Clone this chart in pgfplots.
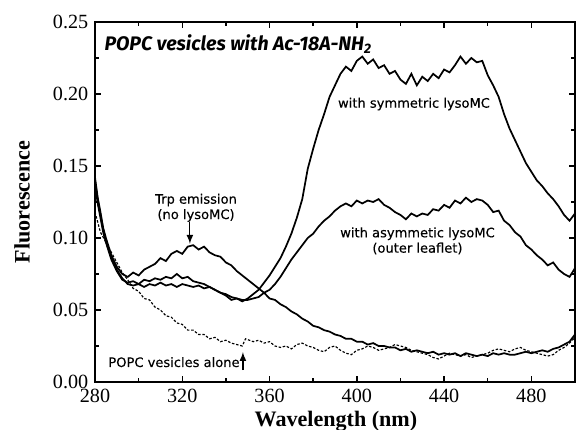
\documentclass[border=0pt]{standalone}
\usepackage{pgfplots}
\pgfplotsset{compat=1.18}
\usepackage{fontspec}
\setmainfont{Liberation Serif}
\setsansfont{Fira Sans}
\newfontfamily\annfont[FakeBold=0.3]{DejaVu Sans}
\begin{document}
\begin{tikzpicture}
\begin{axis}[
  at={(0,0)}, anchor=south west,
  scale only axis, width=250pt, height=187.5pt,
  xmin=280, xmax=500, ymin=0, ymax=0.25,
  xtick={280,320,...,480}, minor xtick={300,340,...,500},
  ytick={0,0.05,...,0.25}, minor ytick={0.025,0.075,...,0.225},
  major tick length=3.2pt, minor tick length=2pt,
  every tick/.style={line width=0.8pt, black},
  axis line style={line width=0.9pt},
  tick label style={font=\fontsize{10.5}{12}\selectfont},
  /pgf/number format/assume math mode=true,
  yticklabel style={/pgf/number format/fixed, /pgf/number format/fixed zerofill, /pgf/number format/precision=2},
  xticklabel style={/pgf/number format/1000 sep={}},
  xlabel={Wavelength (nm)}, ylabel={Fluorescence},
  label style={font=\fontsize{11.5}{13}\selectfont\bfseries},
  xlabel style={at={(axis description cs:0.502,-0.108)}, anchor=center},
  ylabel style={at={(axis description cs:-0.152,0.5)}, anchor=center},
  clip=true,
]
% no lysoMC (Trp emission)
\addplot[black, line width=0.9pt] coordinates {
(280,0.142)(281.25,0.128)(282.5,0.118)(283.75,0.107)(285,0.100)(287.5,0.088)(290,0.080)(292.5,0.075)(295,0.073)(297.5,0.076)(300,0.074)(302.5,0.078)(305,0.080)(307.5,0.082)(310,0.086)(312.5,0.084)(315,0.089)(317.5,0.091)(320,0.089)(322.5,0.094)(325,0.095)(327.5,0.092)(330,0.094)(332.5,0.090)(335,0.088)(337.5,0.087)(340,0.083)(342.5,0.081)(345,0.077)(347.5,0.074)(350,0.071)(352.5,0.068)(355,0.065)(357.5,0.062)(360,0.058)(362.5,0.057)(365,0.054)(367.5,0.052)(370,0.049)(372.5,0.047)(375,0.044)(377.5,0.042)(380,0.039)(382.5,0.038)(385,0.036)(387.5,0.035)(390,0.033)(392.5,0.032)(395,0.030)(397.5,0.030)(400,0.028)(402.5,0.028)(405,0.026)(407.5,0.027)(410,0.025)(412.5,0.025)(415,0.024)(417.5,0.024)(420,0.022)(422.5,0.023)(425,0.021)(427.5,0.022)(430,0.021)(432.5,0.020)(435,0.021)(437.5,0.019)(440,0.020)(442.5,0.019)(445,0.020)(447.5,0.018)(450,0.020)(452.5,0.019)(455,0.018)(457.5,0.019)(460,0.018)(462.5,0.020)(465,0.019)(467.5,0.020)(470,0.019)(472.5,0.019)(475,0.020)(477.5,0.021)(480,0.020)(482.5,0.021)(485,0.022)(487.5,0.021)(490,0.023)(492.5,0.024)(495,0.026)(497.5,0.028)(500,0.033)
};
% symmetric lysoMC
\addplot[black, line width=0.9pt] coordinates {
(280,0.140)(281.25,0.126)(282.5,0.116)(283.75,0.106)(285,0.098)(287.5,0.086)(290,0.078)(292.5,0.072)(295,0.068)(297.5,0.067)(300,0.068)(302.5,0.066)(305,0.068)(307.5,0.067)(310,0.069)(312.5,0.067)(315,0.068)(317.5,0.066)(320,0.068)(322.5,0.067)(325,0.066)(327.5,0.067)(330,0.065)(332.5,0.066)(335,0.064)(337.5,0.062)(340,0.061)(342.5,0.059)(345,0.058)(347.5,0.056)(350,0.058)(352.5,0.061)(355,0.064)(357.5,0.069)(360,0.074)(362.5,0.080)(365,0.086)(367.5,0.094)(370,0.103)(372.5,0.114)(375,0.127)(377.5,0.148)(380,0.162)(382.5,0.175)(385,0.186)(387.5,0.198)(390,0.206)(392.5,0.214)(395,0.219)(397.5,0.216)(400,0.223)(402.5,0.226)(405,0.221)(407.5,0.224)(410,0.218)(412.5,0.220)(415,0.214)(417.5,0.216)(420,0.210)(422.5,0.207)(425,0.214)(427.5,0.206)(430,0.212)(432.5,0.209)(435,0.214)(437.5,0.211)(440,0.217)(442.5,0.215)(445,0.220)(447.5,0.226)(450,0.221)(452.5,0.225)(455,0.222)(457.5,0.223)(460,0.213)(462.5,0.206)(465,0.198)(467.5,0.186)(470,0.176)(472.5,0.168)(475,0.160)(477.5,0.152)(480,0.146)(482.5,0.140)(485,0.136)(487.5,0.131)(490,0.127)(492.5,0.122)(495,0.116)(497.5,0.112)(500,0.117)
};
% asymmetric lysoMC
\addplot[black, line width=0.9pt] coordinates {
(280,0.138)(281.25,0.124)(282.5,0.114)(283.75,0.104)(285,0.097)(287.5,0.085)(290,0.077)(292.5,0.071)(295,0.069)(297.5,0.070)(300,0.068)(302.5,0.071)(305,0.070)(307.5,0.072)(310,0.071)(312.5,0.073)(315,0.072)(317.5,0.075)(320,0.072)(322.5,0.073)(325,0.070)(327.5,0.069)(330,0.068)(332.5,0.066)(335,0.064)(337.5,0.062)(340,0.060)(342.5,0.057)(345,0.058)(347.5,0.057)(350,0.057)(352.5,0.058)(355,0.059)(357.5,0.062)(360,0.064)(362.5,0.068)(365,0.073)(367.5,0.079)(370,0.085)(372.5,0.090)(375,0.095)(377.5,0.100)(380,0.103)(382.5,0.108)(385,0.112)(387.5,0.115)(390,0.119)(392.5,0.122)(395,0.124)(397.5,0.122)(400,0.126)(402.5,0.124)(405,0.126)(407.5,0.125)(410,0.127)(412.5,0.123)(415,0.121)(417.5,0.118)(420,0.116)(422.5,0.113)(425,0.117)(427.5,0.115)(430,0.117)(432.5,0.116)(435,0.120)(437.5,0.119)(440,0.123)(442.5,0.121)(445,0.126)(447.5,0.124)(450,0.128)(452.5,0.125)(455,0.127)(457.5,0.126)(460,0.123)(462.5,0.118)(465,0.119)(467.5,0.112)(470,0.109)(472.5,0.104)(475,0.101)(477.5,0.095)(480,0.092)(482.5,0.088)(485,0.085)(487.5,0.081)(490,0.083)(492.5,0.078)(495,0.075)(497.5,0.073)(500,0.079)
};
% POPC vesicles alone
\addplot[black, line width=0.6pt, dash pattern=on 1.3pt off 0.9pt] coordinates {
(280,0.118)(282.5,0.104)(285,0.097)(287.5,0.090)(290,0.083)(292.5,0.076)(295,0.071)(297.5,0.065)(300,0.063)(302.5,0.058)(305,0.057)(307.5,0.052)(310,0.050)(312.5,0.046)(315,0.045)(317.5,0.041)(320,0.040)(322.5,0.036)(325,0.036)(327.5,0.033)(330,0.033)(332.5,0.030)(335,0.031)(337.5,0.028)(340,0.029)(342.5,0.027)(345,0.026)(347.5,0.025)(349,0.030)(352.5,0.028)(355,0.029)(357.5,0.027)(360,0.028)(362.5,0.025)(365,0.024)(367.5,0.025)(370,0.023)(372.5,0.026)(375,0.027)(377.5,0.025)(380,0.024)(382.5,0.022)(385,0.021)(387.5,0.024)(390,0.025)(392.5,0.022)(395,0.020)(397.5,0.019)(400,0.022)(402.5,0.023)(405,0.025)(407.5,0.024)(410,0.022)(412.5,0.023)(415,0.024)(417.5,0.026)(420,0.025)(422.5,0.024)(425,0.022)(427.5,0.021)(430,0.020)(432.5,0.019)(435,0.017)(437.5,0.016)(440,0.018)(442.5,0.020)(445,0.019)(447.5,0.018)(450,0.019)(452.5,0.017)(455,0.018)(457.5,0.019)(460,0.020)(462.5,0.022)(465,0.023)(467.5,0.022)(470,0.021)(472.5,0.023)(475,0.024)(477.5,0.022)(480,0.021)(482.5,0.020)(485,0.019)(487.5,0.018)(490,0.019)(492.5,0.022)(495,0.024)(497.5,0.027)(500,0.031)
};
\node[anchor=west, font=\sffamily\bfseries\itshape\fontsize{10.2}{12}\selectfont, inner sep=0pt] at (axis cs:284.2,0.2346) {POPC vesicles with Ac-18A-NH\textsubscript{2}};
\node[font=\annfont\fontsize{6.8}{8}\selectfont, inner sep=0pt] at (axis cs:426.2,0.193) {with symmetric lysoMC};
\node[font=\annfont\fontsize{6.8}{8}\selectfont, align=center, inner sep=0pt] at (axis cs:427.8,0.098) {with asymmetic lysoMC\\(outer leaflet)};
\node[font=\annfont\fontsize{6.8}{8}\selectfont, align=center, inner sep=0pt] at (axis cs:326.3,0.121) {Trp emission\\(no lysoMC)};
\node[font=\annfont\fontsize{6.8}{8}\selectfont, inner sep=0pt] at (axis cs:316.2,0.0138) {POPC vesicles alone};
\draw[-latex, line width=0.6pt] (axis cs:323.5,0.111) -- (axis cs:323.5,0.096);
\draw[-latex, line width=0.6pt] (axis cs:347.8,0.0083) -- (axis cs:347.8,0.0208);
\end{axis}
\pgfresetboundingbox
\path (-49.48pt,-25pt) rectangle (250.52pt,198.96pt);
\end{tikzpicture}
\end{document}
